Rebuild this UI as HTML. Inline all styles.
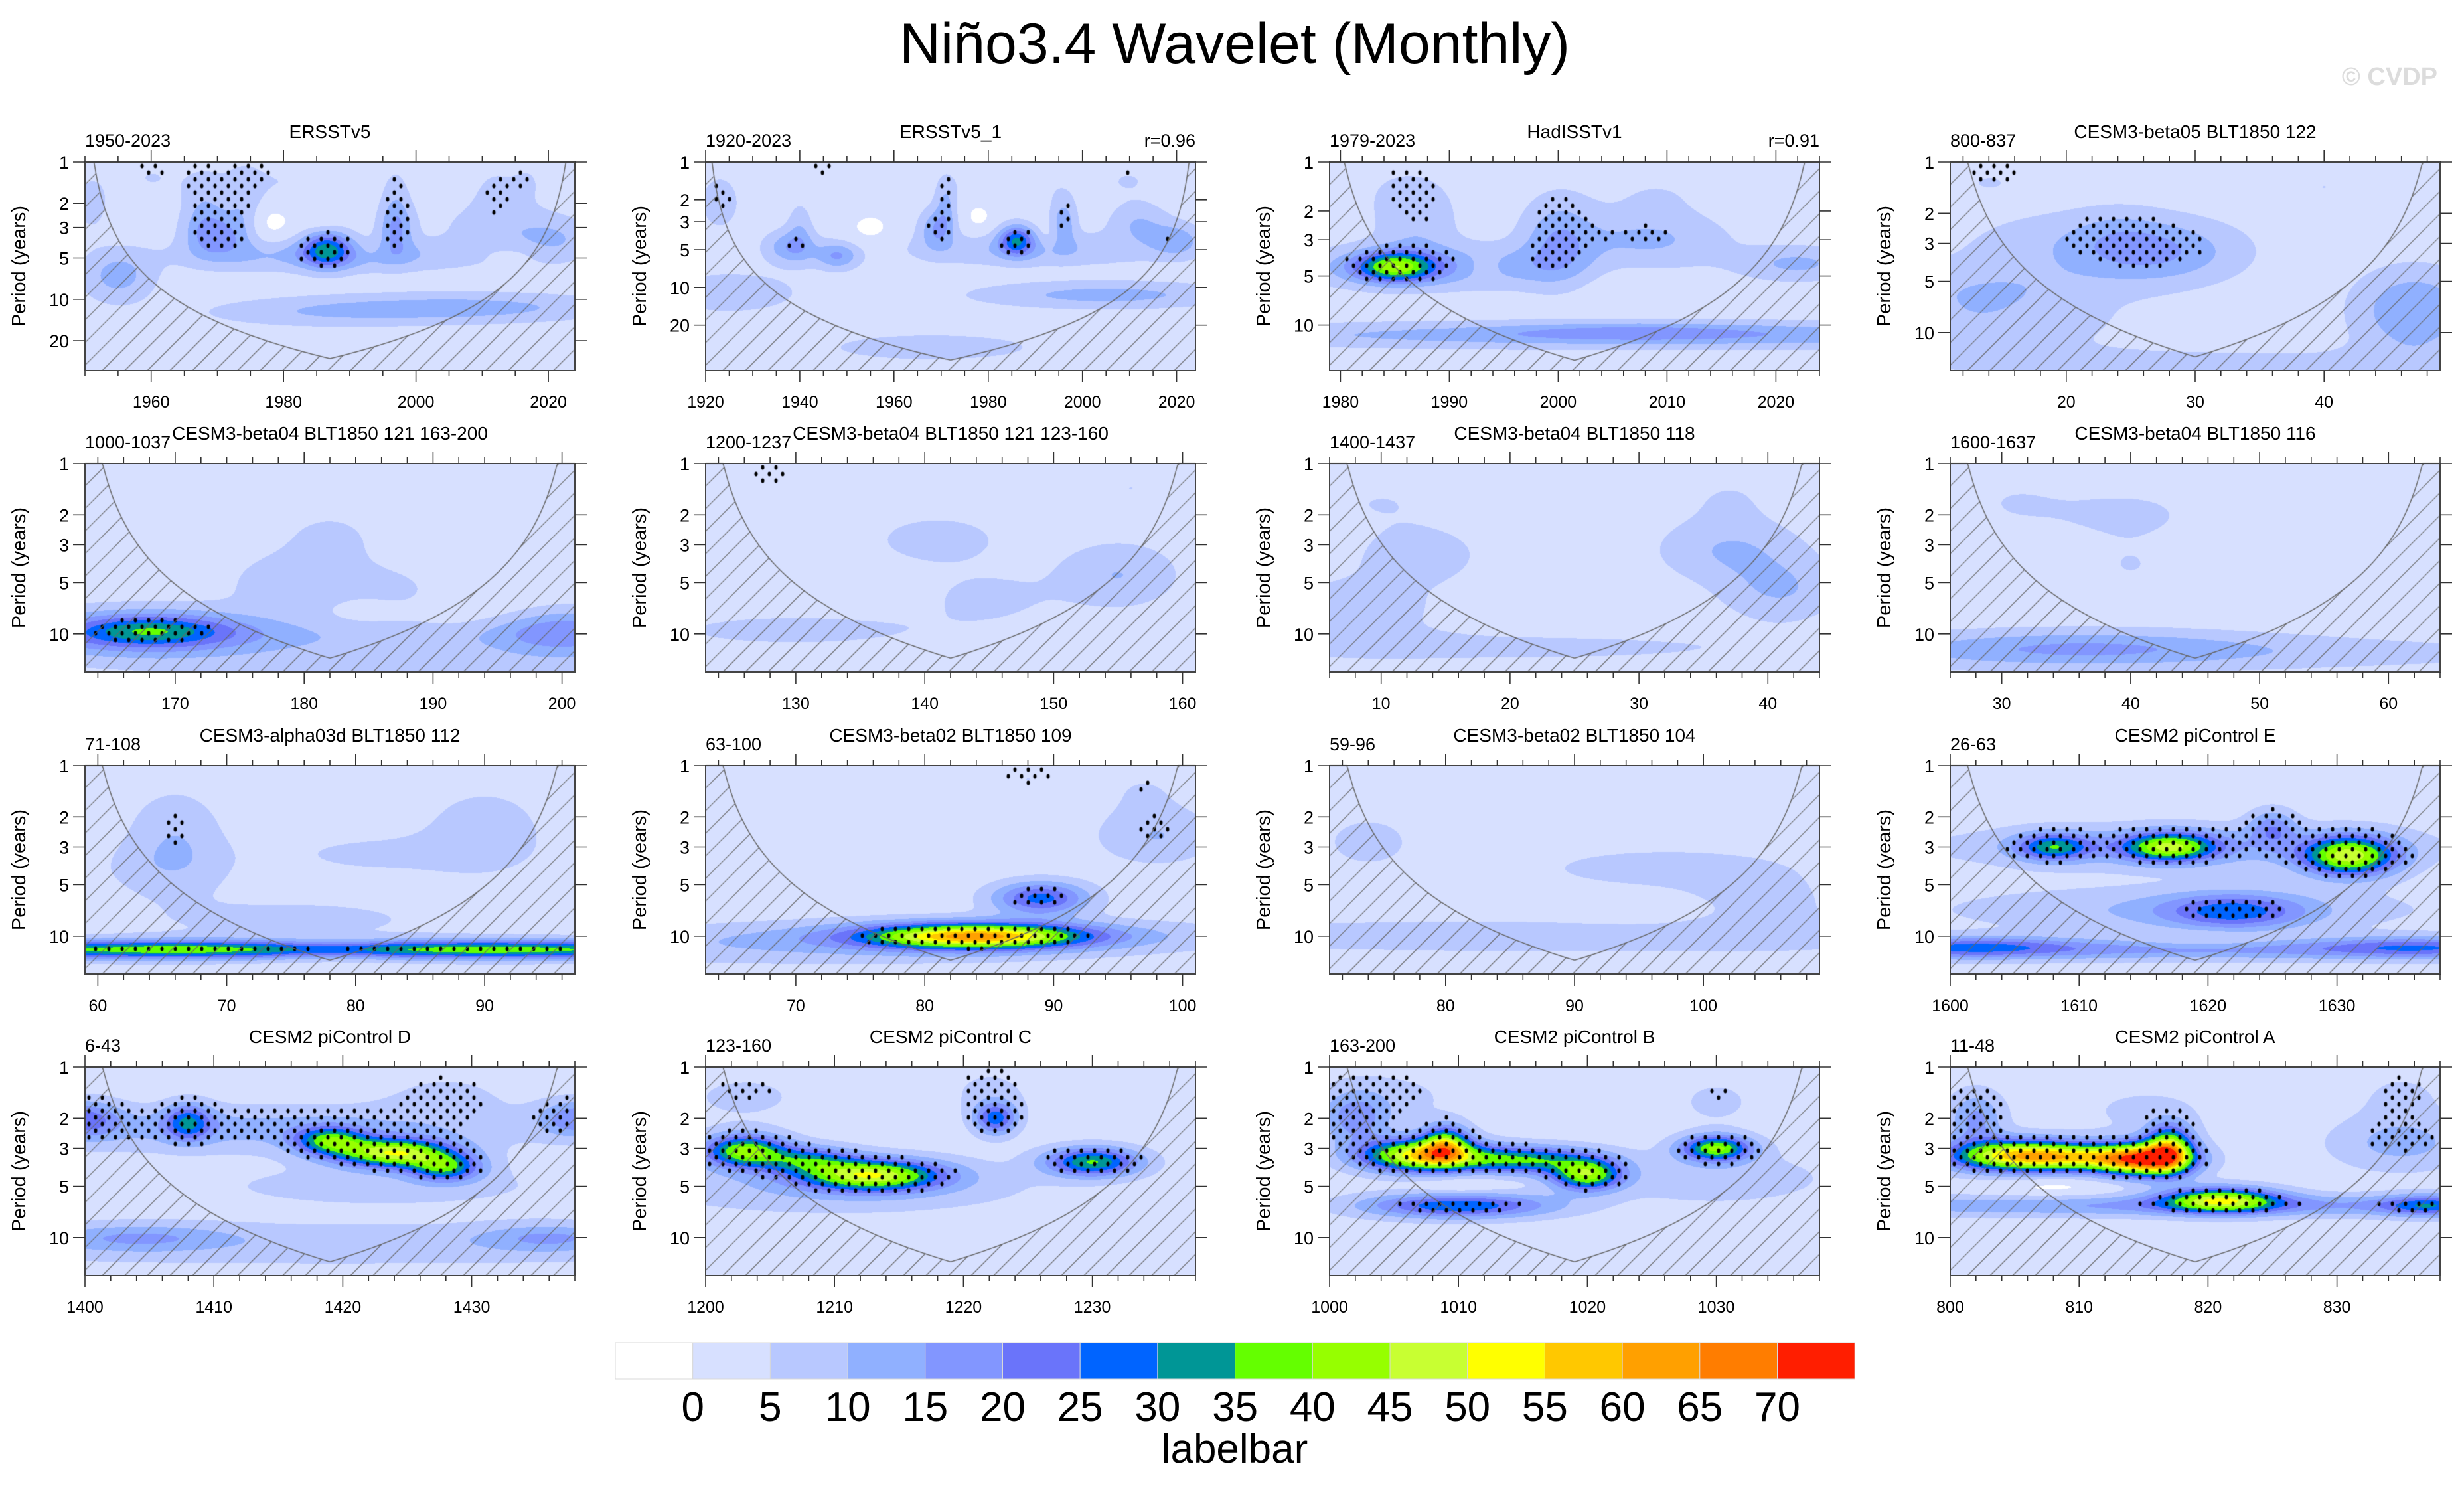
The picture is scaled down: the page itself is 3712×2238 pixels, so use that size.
<!DOCTYPE html>
<html><head><meta charset="utf-8"><title>Niño3.4 Wavelet (Monthly)</title>
<style>
html,body{margin:0;padding:0;background:#fff;}
#wrap{position:relative;width:3712px;height:2238px;overflow:hidden;}
#cv{position:absolute;left:0;top:0;}
#ov{position:absolute;left:0;top:0;}
text{font-family:"Liberation Sans",sans-serif;}
</style></head>
<body>
<div id="wrap">
<canvas id="cv" width="3712" height="2238"></canvas>
<svg id="ov" width="3712" height="2238" xmlns="http://www.w3.org/2000/svg">
<text x="1860" y="95" font-size="86" text-anchor="middle" fill="#000">Niño3.4 Wavelet (Monthly)</text>
<text x="3672" y="128" font-size="38" font-weight="bold" text-anchor="end" fill="#dcdcdc">© CVDP</text>
<g id="panels"></g>
<g id="labelbar"></g>
<text x="1860" y="2203" font-size="62" text-anchor="middle" fill="#000">labelbar</text>
</svg>
</div>
<script>
const levelColors = ['#ffffff','#d7e0ff','#b8c8ff','#90b0ff','#8296ff','#6a74fa','#0064ff','#009696','#64ff00','#96ff00','#c8ff32','#ffff00','#ffc800','#ffa000','#ff7d00','#ff1e00'];
const levelLabels = ['0','5','10','15','20','25','30','35','40','45','50','55','60','65','70'];
const panelTitles = ['ERSSTv5','ERSSTv5_1','HadISSTv1','CESM3-beta05 BLT1850 122',
 'CESM3-beta04 BLT1850 121 163-200','CESM3-beta04 BLT1850 121 123-160','CESM3-beta04 BLT1850 118','CESM3-beta04 BLT1850 116',
 'CESM3-alpha03d BLT1850 112','CESM3-beta02 BLT1850 109','CESM3-beta02 BLT1850 104','CESM2 piControl E',
 'CESM2 piControl D','CESM2 piControl C','CESM2 piControl B','CESM2 piControl A'];
const panelYears = ['1950-2023','1920-2023','1979-2023','800-837','1000-1037','1200-1237','1400-1437','1600-1637',
 '71-108','63-100','59-96','26-63','6-43','123-160','163-200','11-48'];
const panelCorr = ['','r=0.96','r=0.91','','','','','','','','','','','','',''];
const xStart = [1950,1920,1979,11,163,123,6,26,59,63,71,1600,1400,1200,1000,800];
const xEnd   = [2024,2024,2024,49,201,161,44,64,97,101,109,1638,1438,1238,1038,838];
const xMajor = [[1960,1980,2000,2020],[1920,1940,1960,1980,2000,2020],[1980,1990,2000,2010,2020],[20,30,40],
 [170,180,190,200],[130,140,150,160],[10,20,30,40],[30,40,50,60],
 [60,70,80,90],[70,80,90,100],[80,90,100],[1600,1610,1620,1630],
 [1400,1410,1420,1430],[1200,1210,1220,1230],[1000,1010,1020,1030],[800,810,820,830]];
const xMinorStep = [5,5,2,2,2,2,2,2,2,2,2,2,2,2,2,2];
const periodMax = [33,46,19,16.7,16.7,16.7,16.7,16.7,16.7,16.7,16.7,16.7,16.7,16.7,16.7,16.7];
const yTicksLong = [1,2,3,5,10,20];
const yTicksShort = [1,2,3,5,10];
const baseValue = 7;
// blobs: [time, period(yr), amplitude, timeWidth(yr), periodWidth(octaves)]
const panelBlobs = [
 [[1986.5,4.3,24,2,0.25],[1988,4.8,10,12,0.22],[1970,3.4,13,2.5,0.3],[1968,2.3,7,1.8,0.5],[1974,2.2,7,1.5,0.5],[1997,3.1,11,1.5,0.35],[1997,2.0,5,1.2,0.5],
  [2013,3.0,6,5,0.35],[2021,3.8,7,3,0.3],[1955,6.8,10,3,0.35],[1951,2,5,1.5,0.4],[2008,11.5,10,12,0.2],[1985,12.5,6,10,0.2],
  [1977,2.8,-4,2.5,0.3],[1986,2.6,-3,1.5,0.2],[1993,4.3,-3,1.5,0.15],[2015,4.6,-3,4,0.15],[2012,1.7,4,2,0.4],[2017,1.4,3,1.5,0.3],[1960,1.3,3,3,0.3],[1980,1.4,3,6,0.3]],
 [[1923,2.1,8,2,0.35],[1938,4.8,12,3,0.25],[1948,5.6,13,2.5,0.2],[1940,3.4,6,1.5,0.4],[1969,3.4,12,2,0.3],[1971,2.2,8,1.2,0.4],
  [1986,4.2,24,2,0.22],[1990,5,8,15,0.25],[1996,3,11,1.5,0.35],[2012,3.1,8,3.5,0.3],[2020,4.2,10,3,0.25],[2005,11.5,10,15,0.2],
  [1925,11,7,8,0.3],[1968,30,5,15,0.25],[1955,3.5,-3,3,0.3],[1978,2.7,-3,2,0.3],[1993,4,-3,1.5,0.2],[1945,1.2,3,3,0.3],[1985,1.5,3,8,0.3],[2010,1.4,3,4,0.3]],
 [[1985,4.4,32,2,0.17],[1990,4.4,11,8,0.25],[1987,2.6,6,2,0.4],[2000,3,11,1.8,0.5],[2008,3,9,4,0.3],[2022,4.2,9,3,0.2],[2010,11.5,12,25,0.15],
  [2007,11,6,6,0.1],[1993,4.4,-4,1.2,0.15],[2005,4.6,-3,3,0.3],[1986,1.5,3,3,0.4],[2009,1.6,3,3,0.3]],
 [[27,3.4,12,3.5,0.35],[20,3,5,5,0.35],[14,5.5,7,5,0.3],[13,9,6,6,0.3],[47,6.5,9,2.5,0.4],[47,9.5,6,2.5,0.4],[24,2.5,3,2,0.3],[14,1.3,3,3,0.3],[40,1.4,3,2,0.3],[30,15,4,20,0.2]],
 [[168,9.5,20,3.5,0.18],[168,10,10,6,0.3],[200,9.5,14,3,0.25],[180,10.5,5,30,0.2],[180,5,7,3,0.35],[187,6,4,2,0.3],[182,2.7,4,2,0.3],[194,2,3,2,0.4],[195,15,4,15,0.2],
  [185,7,-3,2,0.2],[195,7.5,-2,3,0.2]],
 [[141,2.8,5,3,0.3],[155,4.5,8,2.5,0.35],[145,6,4,3,0.3],[130,9.5,4,8,0.25],[156,1.4,3,2,0.3],[128,1.3,3,2,0.3]],
 [[13,3.4,6,2.5,0.3],[37,3.2,8,3,0.35],[41,5.5,8,2.5,0.35],[8,7,5,4,0.4],[20,12,4,15,0.2],[10,1.7,3,3,0.3],[37,1.6,3,2,0.3]],
 [[36,12,10,8,0.2],[45,13,5,20,0.2],[40,2,4,3,0.3],[31,1.7,3,3,0.4],[40,4,3,2,0.3]],
 [[78,12,30,30,0.1],[64,12,8,6,0.12],[92,12,8,6,0.12],[78,12,-8,3,0.12],[66,2.6,7,2,0.5],[90,2.4,6,2.5,0.45],[82,3.3,4,5,0.25],[75,8,4,8,0.3],[65,4,4,3,0.3]],
 [[84,10,50,4.5,0.14],[89,6,25,2,0.18],[83,10,10,12,0.18],[98,2.6,8,2.5,0.3],[97,1.4,3,2,0.3],[88,1.2,3,2,0.2],[70,12,5,12,0.2]],
 [[97,4,5,6,0.25],[90,10,6,25,0.2],[104,6.5,6,3,0.3],[74,2.8,5,2,0.3],[96,7,-3,4,0.15]],
 [[1608,3,26,1.6,0.15],[1617,3,36,2,0.16],[1631,3.4,42,2,0.22],[1625,2.3,14,1,0.2],[1618,3,10,10,0.25],[1622,7.2,20,3,0.2],[1618,7,8,10,0.25],
  [1619,12,14,30,0.12],[1602,11.5,14,4,0.12],[1636,11.5,12,4,0.12],[1620,10.5,-5,3,0.1]],
 [[1424,3.2,45,2.5,0.16],[1419,2.7,28,1.5,0.15],[1428,3.9,28,1.5,0.15],[1408,2.1,22,1,0.2],[1400,2,16,1.5,0.2],[1438,2,16,1.5,0.2],[1412,2.3,10,12,0.25],
  [1404,10,10,4,0.15],[1436,10,10,3,0.15],[1420,11,6,20,0.25],[1423,5,5,8,0.25],[1428,1.5,4,3,0.3]],
 [[1203,3.1,38,1.8,0.18],[1213,4.3,42,3,0.17],[1208,3.5,22,2,0.15],[1222.5,2,25,0.9,0.18],[1230,3.6,33,2,0.16],[1210,5,8,8,0.3],[1203,1.5,4,3,0.3],[1222,1.4,4,2,0.3]],
 [[1007,3.3,50,2.5,0.18],[1009,2.8,32,1,0.2],[1015,3.5,32,3,0.15],[1020,4.3,38,1.5,0.17],[1030,3,38,1.5,0.14],[1010,6.5,28,4,0.14],[1002,2,15,1.5,0.3],
  [1010,5,-4,2,0.15],[1030,4.5,6,5,0.3],[1005,1.5,4,3,0.3],[1030,1.6,4,2,0.3]],
 [[805,3.3,45,3,0.18],[815,3.5,55,2,0.18],[817,3,40,1,0.25],[810,3.4,30,3,0.15],[821,6,40,2.5,0.14],[819,6.5,14,20,0.12],[837,6.5,18,2,0.12],
  [802,2,14,1.2,0.3],[808,5,-4,3,0.15],[835,2.8,10,3,0.3],[835,1.5,4,2,0.3],[815,1.8,4,3,0.3]]
];

const colLeft = [128,1063,2003,2938];
const rowTop = [244,698,1153,1607];
const PW = 738, PH = 314;
const TW = 1.8, PWID = 1.75;
const SVGNS = 'http://www.w3.org/2000/svg';
const cv = document.getElementById('cv');
const ctx = cv.getContext('2d');

function hexToRgb(h){return [parseInt(h.substr(1,2),16),parseInt(h.substr(3,2),16),parseInt(h.substr(5,2),16)];}
const rgbLevels = levelColors.map(hexToRgb);

function fieldAt(i,t,lg){
  let v = baseValue;
  const bl = panelBlobs[i];
  for (let k=0;k<bl.length;k++){
    const b = bl[k];
    const dt = (t-b[0])/(b[3]*TW);
    const dl = (lg-Math.log2(b[1]))/(b[4]*PWID);
    const e = dt*dt+dl*dl;
    if (e<12) v += b[2]*Math.exp(-e);
  }
  return v;
}
function xScale(i,t){ return colLeft[i%4] + (t-xStart[i])/(xEnd[i]-xStart[i])*PW; }
function yScale(i,p){ return rowTop[Math.floor(i/4)] + Math.log2(p)/Math.log2(periodMax[i])*PH; }

function mk(tag, attrs, parent){
  const el = document.createElementNS(SVGNS, tag);
  for (const k in attrs) el.setAttribute(k, attrs[k]);
  parent.appendChild(el);
  return el;
}

const panelsG = document.getElementById('panels');

for (let i=0;i<16;i++){
  const L = colLeft[i%4], T = rowTop[Math.floor(i/4)];
  const lp = Math.log2(periodMax[i]);
  const x0 = xStart[i], x1 = xEnd[i];
  const img = ctx.createImageData(PW, PH);
  for (let y=0;y<PH;y++){
    const lg = (y+0.5)/PH*lp;
    for (let x=0;x<PW;x++){
      const t = x0 + (x+0.5)/PW*(x1-x0);
      const v = fieldAt(i,t,lg);
      let lv = Math.floor(v/5); if (lv<0) lv=0; if (lv>15) lv=15;
      const c = rgbLevels[lv];
      const o = (y*PW+x)*4;
      img.data[o]=c[0]; img.data[o+1]=c[1]; img.data[o+2]=c[2]; img.data[o+3]=255;
    }
  }
  ctx.putImageData(img, L, T);
  ctx.fillStyle = '#000';
  let r = 0;
  for (let gy=T+6; gy<T+PH-2; gy+=10, r++){
    const lg = (gy-T)/PH*lp;
    const thr = 8.8 + 2.6*lg + 1.2*lg*lg;
    for (let gx=L+6+(r%2?10:0); gx<L+PW-2; gx+=20){
      const t = x0 + (gx-L)/PW*(x1-x0);
      if (fieldAt(i,t,lg) > thr){
        ctx.beginPath(); ctx.ellipse(gx,gy,2.5,3.4,0,0,Math.PI*2); ctx.fill();
      }
    }
  }
  const coi = [];
  for (let x=0;x<=PW;x+=2){
    const t = x0 + x/PW*(x1-x0);
    const cp = 0.73*Math.min(t-x0, x1-t);
    let yc = cp<=1 ? T : T + Math.log2(cp)/lp*PH;
    if (yc>T+PH) yc = T+PH;
    coi.push([L+x,yc]);
  }
  ctx.save();
  ctx.beginPath(); ctx.moveTo(L,T+PH);
  coi.forEach(pt=>ctx.lineTo(pt[0],pt[1]));
  ctx.lineTo(L+PW,T+PH); ctx.closePath(); ctx.clip();
  ctx.strokeStyle='#666'; ctx.lineWidth=1.2;
  for (let s=L-PH; s<L+PW; s+=34){
    ctx.beginPath(); ctx.moveTo(s,T+PH); ctx.lineTo(s+PH,T); ctx.stroke();
  }
  ctx.restore();
  ctx.strokeStyle='#666'; ctx.lineWidth=1.5;
  ctx.beginPath(); coi.forEach((pt,k)=>k?ctx.lineTo(pt[0],pt[1]):ctx.moveTo(pt[0],pt[1])); ctx.stroke();

  const g = mk('g',{},panelsG);
  
  
  const fr = mk('rect',{x:L,y:T,width:PW,height:PH,fill:'none',stroke:'#444','stroke-width':2},g);
  
  
  const tt = mk('text',{x:L+PW/2,y:T-36,'font-size':28,'text-anchor':'middle'},g);
  
  
  tt.textContent = panelTitles[i];
  const ty = mk('text',{x:L,y:T-23,'font-size':27,'text-anchor':'start'},g);
  
  
  ty.textContent = panelYears[i];
  if (panelCorr[i]){
    const tc = mk('text',{x:L+PW,y:T-23,'font-size':27,'text-anchor':'end'},g);
    
    
    tc.textContent = panelCorr[i];
  }
  let path = '';
  const firstMinor = Math.ceil(x0/xMinorStep[i])*xMinorStep[i];
  for (let t=firstMinor; t<=x1; t+=xMinorStep[i]){
    const xx = xScale(i,t).toFixed(1);
    path += 'M'+xx+' '+(T+PH)+'v9M'+xx+' '+T+'v-9';
  }
  xMajor[i].forEach(t=>{
    const xx = xScale(i,t).toFixed(1);
    path += 'M'+xx+' '+(T+PH)+'v18M'+xx+' '+T+'v-18';
    const lb = mk('text',{x:xx,y:T+PH+56,'font-size':25,'text-anchor':'middle'},g);
    
    
    lb.textContent = t;
  });
  const yt = periodMax[i]>25 ? yTicksLong : yTicksShort;
  yt.forEach(p=>{
    const yy = yScale(i,p).toFixed(1);
    path += 'M'+L+' '+yy+'h-18M'+(L+PW)+' '+yy+'h18';
    const lb = mk('text',{x:L-24,y:+yy+10,'font-size':27,'text-anchor':'end'},g);
    
    
    lb.textContent = p;
  });
  const tk = mk('path',{d:path,stroke:'#333','stroke-width':1.6,fill:'none'},g);
  
  
  const yl = mk('text',{x:0,y:0,'font-size':29,'text-anchor':'middle',transform:'translate('+(L-90)+','+(T+PH/2)+') rotate(-90)'},g);
  
  
  yl.textContent = 'Period (years)';
}

const lbG = document.getElementById('labelbar');
const lbX = 927, lbY = 2022, lbW = 116.7, lbH = 55;
levelColors.forEach((c,k)=>{
  const r = mk('rect',{x:(lbX+k*lbW).toFixed(1),y:lbY,width:lbW.toFixed(1),height:lbH,fill:c,stroke:'#d8d8d8','stroke-width':1},lbG);
  
  
});
levelLabels.forEach((s,k)=>{
  const t = mk('text',{x:(lbX+(k+1)*lbW).toFixed(1),y:2140,'font-size':62,'text-anchor':'middle'},lbG);
  
  
  t.textContent = s;
});
</script>
</body></html>
